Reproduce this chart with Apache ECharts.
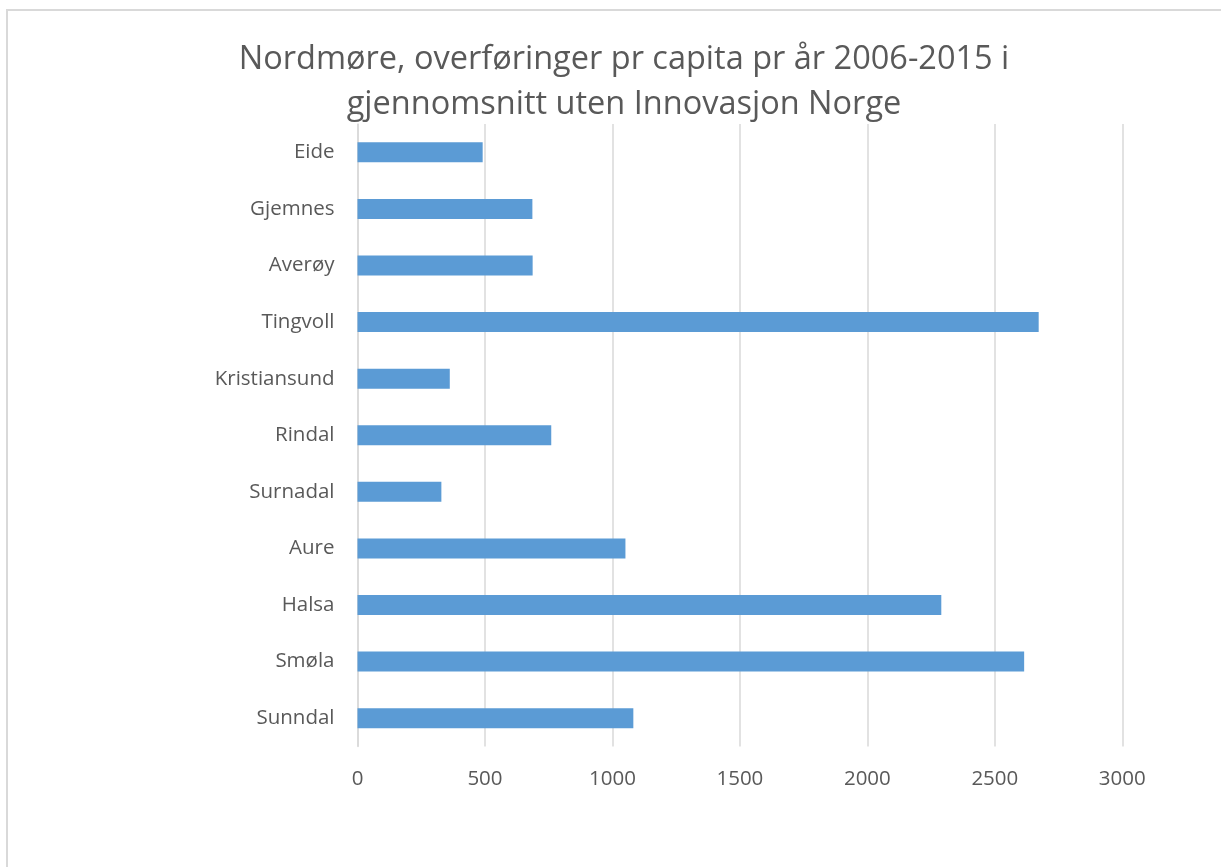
<!DOCTYPE html>
<html>
<head>
<meta charset="utf-8">
<script src="https://cdn.jsdelivr.net/npm/echarts@6/dist/echarts.min.js"></script>
<style>
html,body{margin:0;padding:0;background:#fff;}
#chart{width:1221px;height:867px;}
</style>
</head>
<body>
<div id="chart"></div>
<script>
const categories = ['Eide','Gjemnes','Averøy','Tingvoll','Kristiansund','Rindal','Surnadal','Aure','Halsa','Smøla','Sunndal'];
const values = [491, 686, 687, 2672, 362, 760, 329, 1051, 2290, 2615, 1082];
const xTicks = [0, 500, 1000, 1500, 2000, 2500, 3000];
const titleText = 'Nordmøre, overføringer pr capita pr år 2006-2015 i\ngjennomsnitt uten Innovasjon Norge';

const chart = echarts.init(document.getElementById('chart'));
const font = '"Open Sans", Lato, sans-serif';
chart.setOption({
  backgroundColor: '#fff',
  animation: false,
  graphic: [{
    type: 'rect',
    shape: {x: 7, y: 10, width: 1400, height: 1000},
    style: {fill: 'none', stroke: '#d9d9d9', lineWidth: 2},
    silent: true
  }],
  title: {
    text: titleText,
    left: 619,
    textAlign: 'center',
    top: 32,
    textStyle: {fontFamily: font, fontSize: 32.5, fontWeight: 'normal', color: '#595959', lineHeight: 45}
  },
  grid: {left: 357.5, right: 98.7, top: 124, bottom: 120.5, containLabel: false},
  xAxis: {
    type: 'value',
    min: xTicks[0],
    max: xTicks[xTicks.length - 1],
    interval: 500,
    axisLine: {show: false},
    axisTick: {show: false},
    axisLabel: {fontFamily: font, fontSize: 20.5, color: '#595959', margin: 22, formatter: v => String(v)},
    splitLine: {lineStyle: {color: '#d9d9d9', width: 1.5}}
  },
  yAxis: {
    type: 'category',
    data: categories,
    inverse: true,
    axisLine: {show: true, lineStyle: {color: '#d9d9d9', width: 1.5}},
    axisTick: {show: false},
    axisLabel: {fontFamily: font, fontSize: 20.5, color: '#595959', margin: 23}
  },
  series: [{
    type: 'bar',
    data: values,
    barWidth: 20,
    itemStyle: {color: '#5b9bd5'}
  }]
});
</script>
</body>
</html>
